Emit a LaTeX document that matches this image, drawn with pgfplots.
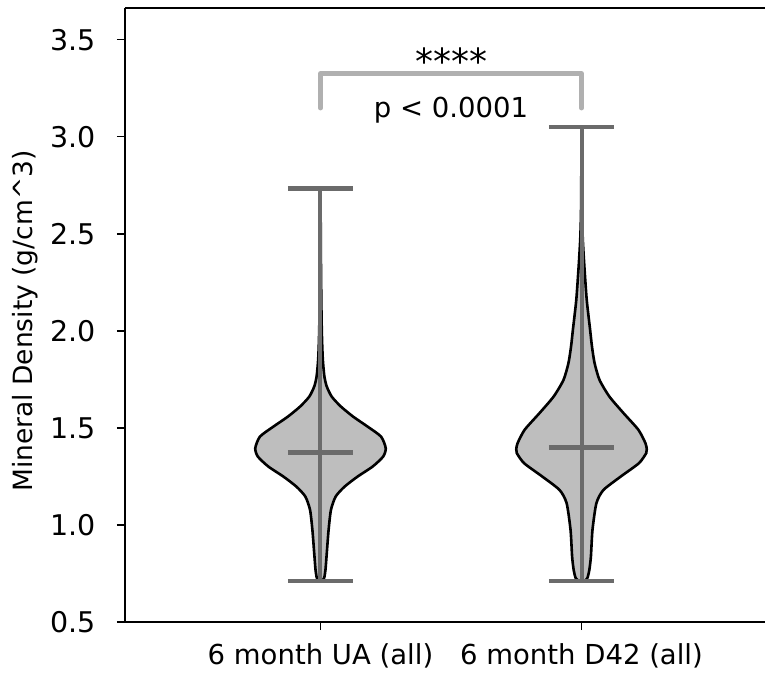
\documentclass[border=0pt]{standalone}
\usepackage{fontspec}
\setmainfont{DejaVu Sans}
\usepackage{pgfplots}
\pgfplotsset{compat=1.18}
\usepackage{pgfplotstable}

\definecolor{vfill}{HTML}{BEBEBE}
\definecolor{vline}{HTML}{6B6B6B}
\definecolor{brk}{HTML}{B0B0B0}

% violin outline of "6 month UA (all)": half-width w (data units), value y
\pgfplotstableread{
w y
0.006 0.711
0.014 0.727
0.019 0.768
0.025 0.871
0.031 0.974
0.040 1.077
0.058 1.146
0.092 1.197
0.142 1.249
0.200 1.301
0.240 1.352
0.250 1.395
0.232 1.455
0.180 1.507
0.125 1.558
0.078 1.610
0.043 1.661
0.024 1.713
0.015 1.764
0.009 1.850
0.006 1.950
0.004 2.070
0.002 2.300
0.001 2.500
0.000 2.733
-0.001 2.500
-0.002 2.300
-0.004 2.070
-0.006 1.950
-0.009 1.850
-0.015 1.764
-0.024 1.713
-0.043 1.661
-0.078 1.610
-0.125 1.558
-0.180 1.507
-0.232 1.455
-0.250 1.395
-0.240 1.352
-0.200 1.301
-0.142 1.249
-0.092 1.197
-0.058 1.146
-0.040 1.077
-0.031 0.974
-0.025 0.871
-0.019 0.768
-0.014 0.727
-0.006 0.711
}\uaoutline

% violin outline of "6 month D42 (all)"
\pgfplotstableread{
w y
0.010 0.711
0.022 0.725
0.030 0.768
0.036 0.837
0.042 0.974
0.057 1.112
0.084 1.180
0.150 1.249
0.220 1.318
0.248 1.370
0.250 1.390
0.245 1.421
0.218 1.490
0.161 1.576
0.107 1.661
0.069 1.747
0.050 1.834
0.040 1.920
0.033 2.005
0.020 2.160
0.011 2.331
0.005 2.469
0.002 2.600
0.0008 2.800
0.000 3.050
-0.0008 2.800
-0.002 2.600
-0.005 2.469
-0.011 2.331
-0.020 2.160
-0.033 2.005
-0.040 1.920
-0.050 1.834
-0.069 1.747
-0.107 1.661
-0.161 1.576
-0.218 1.490
-0.245 1.421
-0.250 1.390
-0.248 1.370
-0.220 1.318
-0.150 1.249
-0.084 1.180
-0.057 1.112
-0.042 0.974
-0.036 0.837
-0.030 0.768
-0.022 0.725
-0.010 0.711
}\dfoutline

\begin{document}
\begin{tikzpicture}
\begin{axis}[
  name=ax,
  at={(0,0)}, anchor=south west,
  scale only axis, width=640bp, height=614bp,
  xmin=0.251, xmax=2.703, ymin=0.5, ymax=3.663,
  axis x line*=box, axis y line*=left,
  xtick={1,2}, xticklabels={6 month UA (all),6 month D42 (all)},
  ytick={0.5,1.0,1.5,2.0,2.5,3.0,3.5},
  xtick pos=left, ytick pos=left,
  tick align=outside,
  major tick length=8bp,
  every tick/.style={black, line width=1.6bp},
  axis line style={black, line width=1.6bp},
  /pgf/number format/fixed,
  /pgf/number format/fixed zerofill,
  /pgf/number format/precision=1,
  /pgf/number format/assume math mode=true,
  yticklabel style={font=\fontsize{28.5bp}{32bp}\selectfont, anchor=east, inner sep=0pt, xshift=-21bp},
  xticklabel style={font=\fontsize{27.5bp}{32bp}\selectfont, anchor=north, inner sep=0pt, yshift=-13bp},
  ylabel={Mineral Density (g/cm\textasciicircum 3)},
  every axis y label/.style={at={(rel axis cs:0,0.49)}, xshift=-92.5bp, rotate=90, anchor=base, font=\fontsize{26.5bp}{30bp}\selectfont},
  clip=false,
]
% violin bodies
\addplot[draw=black, line width=2.6bp, fill=vfill, smooth, tension=0.4]
  table[x expr=1+\thisrow{w}, y=y]{\uaoutline} -- cycle;
\addplot[draw=black, line width=2.6bp, fill=vfill, smooth, tension=0.4]
  table[x expr=2+\thisrow{w}, y=y]{\dfoutline} -- cycle;
% extrema bars, caps and means
\addplot[vline, line width=4bp] coordinates {(1,0.711) (1,2.733)};
\addplot[vline, line width=4.5bp] coordinates {(0.875,2.733) (1.125,2.733)};
\addplot[vline, line width=4.5bp] coordinates {(0.875,0.711) (1.125,0.711)};
\addplot[vline, line width=4.5bp] coordinates {(0.875,1.373) (1.125,1.373)};
\addplot[vline, line width=4bp] coordinates {(2,0.711) (2,3.050)};
\addplot[vline, line width=4.5bp] coordinates {(1.875,3.050) (2.125,3.050)};
\addplot[vline, line width=4.5bp] coordinates {(1.875,0.711) (2.125,0.711)};
\addplot[vline, line width=4.5bp] coordinates {(1.875,1.400) (2.125,1.400)};
% significance bracket
\addplot[brk, line width=4.5bp, line cap=round, line join=round]
  coordinates {(1,3.147) (1,3.326) (2,3.326) (2,3.147)};
\node[anchor=base, font=\fontsize{36bp}{40bp}\selectfont] at (axis cs:1.5,3.318) {****};
\node[anchor=base, font=\fontsize{27.5bp}{30bp}\selectfont] at (axis cs:1.5,3.099) {p < 0.0001};
\end{axis}
\pgfresetboundingbox
\path[use as bounding box] ([shift={(-125bp,-51bp)}]ax.south west) rectangle ([shift={(0bp,8bp)}]ax.north east);
\end{tikzpicture}
\end{document}
